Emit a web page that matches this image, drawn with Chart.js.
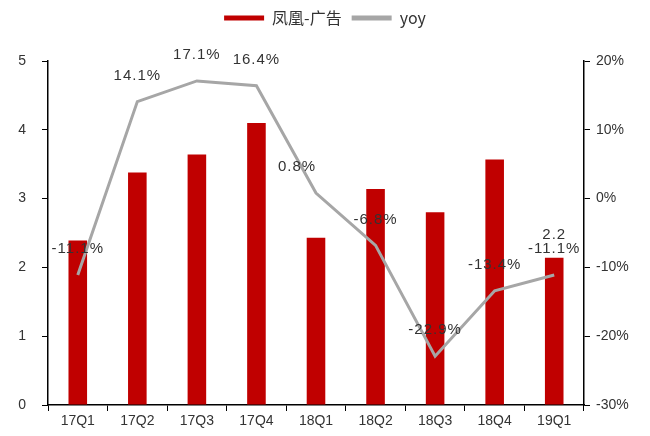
<!DOCTYPE html>
<html>
<head>
<meta charset="utf-8">
<script src="https://cdn.jsdelivr.net/npm/chart.js@4/dist/chart.umd.min.js"></script>
<style>
  html, body { margin: 0; padding: 0; background: #fff; }
  #wrap { width: 650px; height: 436px; }
</style>
</head>
<body>
<div id="wrap"><canvas id="myChart" width="650" height="436"></canvas></div>
<script>
// 数据
var labels = ['17Q1', '17Q2', '17Q3', '17Q4', '18Q1', '18Q2', '18Q3', '18Q4', '19Q1'];
var revenue = [2.39, 3.38, 3.64, 4.10, 2.43, 3.14, 2.80, 3.57, 2.14];
var yoy = [-11.1, 14.1, 17.1, 16.4, 0.8, -6.8, -22.9, -13.4, -11.1];
var revenueLabels = ['', '', '', '', '', '', '', '', '2.2'];

var textColor = '#333333';
var tickFont = { family: 'Liberation Sans, Arial, sans-serif', size: 14 };

// 图例下方留白
var legendSpace = {
    id: 'legendSpace',
    beforeInit: function (chart) {
        var fit = chart.legend.fit;
        chart.legend.fit = function () {
            fit.bind(chart.legend)();
            this.height += 25;
        };
    }
};

// 数据标签
var labelPlugin = {
    id: 'valueLabels',
    afterDatasetsDraw: function (chart) {
        var ctx = chart.ctx;
        ctx.save();
        ctx.font = '15px "Liberation Sans", Arial, sans-serif';
        ctx.letterSpacing = '1px';
        ctx.fillStyle = textColor;
        ctx.textAlign = 'center';
        ctx.textBaseline = 'middle';

        var lineMeta = chart.getDatasetMeta(1);
        lineMeta.data.forEach(function (pt, i) {
            var dx = (i === 4) ? -19 : 0;
            ctx.fillText(yoy[i].toFixed(1) + '%', pt.x + dx, pt.y - 26);
        });

        var barMeta = chart.getDatasetMeta(0);
        barMeta.data.forEach(function (bar, i) {
            if (revenueLabels[i]) {
                ctx.fillText(revenueLabels[i], bar.x, bar.y - 23);
            }
        });
        ctx.restore();
    }
};

var ctx = document.getElementById('myChart').getContext('2d');
var myChart = new Chart(ctx, {
    type: 'bar',
    data: {
        labels: labels,
        datasets: [{
            label: '凤凰-广告',
            data: revenue,
            backgroundColor: '#C00000',
            borderWidth: 0,
            barPercentage: 0.6,
            categoryPercentage: 0.52,
            yAxisID: 'y',
            order: 2
        }, {
            type: 'line',
            label: 'yoy',
            data: yoy,
            borderColor: '#A6A6A6',
            backgroundColor: '#A6A6A6',
            borderWidth: 3,
            pointRadius: 0,
            tension: 0,
            yAxisID: 'y1',
            order: 1
        }]
    },
    options: {
        responsive: false,
        animation: false,
        layout: { padding: { top: 0, left: 0, right: 0, bottom: 0 } },
        plugins: {
            tooltip: { enabled: false },
            legend: {
                position: 'top',
                labels: {
                    color: textColor,
                    font: { family: 'Noto Sans CJK SC, sans-serif', size: 16 },
                    boxWidth: 40,
                    boxHeight: 5,
                    padding: 10,
                    generateLabels: function (chart) {
                        return chart.data.datasets.map(function (ds, i) {
                            return {
                                text: ds.label,
                                fillStyle: i === 0 ? '#C00000' : '#A6A6A6',
                                strokeStyle: 'rgba(0,0,0,0)',
                                lineWidth: 0,
                                fontColor: textColor,
                                datasetIndex: i
                            };
                        });
                    }
                }
            }
        },
        scales: {
            x: {
                offset: true,
                grid: {
                    display: true,
                    offset: true,
                    drawOnChartArea: false,
                    drawTicks: true,
                    tickLength: 6,
                    color: '#000'
                },
                border: { display: true, color: '#000', width: 1.5 },
                ticks: { color: textColor, font: tickFont, padding: 2, maxRotation: 0 },
                afterFit: function (scale) { scale.height = 31; }
            },
            y: {
                position: 'left',
                min: 0,
                max: 5,
                ticks: { stepSize: 1, color: textColor, font: tickFont, padding: 16 },
                grid: {
                    display: true,
                    drawOnChartArea: false,
                    drawTicks: true,
                    tickLength: 6,
                    color: '#000'
                },
                border: { display: true, color: '#000', width: 1.5 },
                afterFit: function (scale) { scale.width = 48; }
            },
            y1: {
                position: 'right',
                min: -30,
                max: 20,
                ticks: {
                    stepSize: 10,
                    color: textColor,
                    font: tickFont,
                    padding: 6,
                    callback: function (v) { return v + '%'; }
                },
                grid: {
                    display: true,
                    drawOnChartArea: false,
                    drawTicks: true,
                    tickLength: 6,
                    color: '#000'
                },
                border: { display: true, color: '#000', width: 1.5 },
                afterFit: function (scale) { scale.width = 66; }
            }
        }
    },
    plugins: [legendSpace, labelPlugin]
});
</script>
</body>
</html>
